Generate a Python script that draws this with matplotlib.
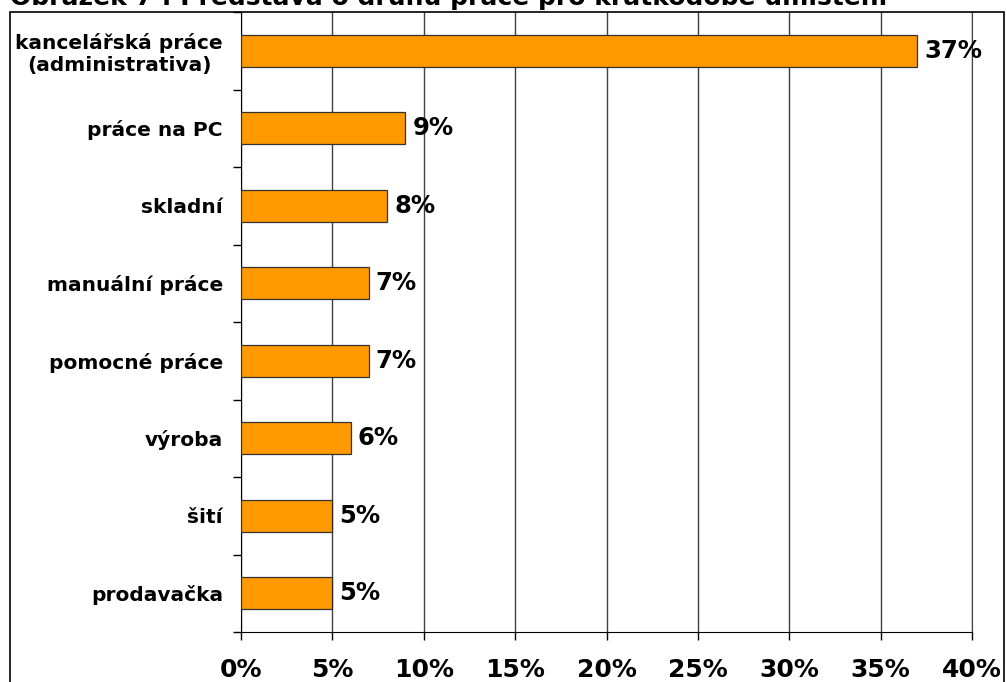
import matplotlib
matplotlib.use("Agg")
import matplotlib.pyplot as plt
from matplotlib.patches import Rectangle
from matplotlib.ticker import FixedLocator

# Data (top to bottom)
categories = ["kancelářská práce\n(administrativa)", "práce na PC", "skladní",
              "manuální práce", "pomocné práce", "výroba", "šití", "prodavačka"]
values = [37, 9, 8, 7, 7, 6, 5, 5]
xticks = [0, 5, 10, 15, 20, 25, 30, 35, 40]
xtick_labels = [f"{v}%" for v in xticks]
title = "Obrázek 7 : Představa o druhu práce pro krátkodobé umístění"

W, H = 1007, 682
fig = plt.figure(figsize=(W / 100, H / 100), dpi=100)
fig.patch.set_facecolor("white")

# Outer chart frame
fig.patches.append(Rectangle((10 / W, -0.02), 994 / W, 0.02 + 1 - 12 / H,
                             transform=fig.transFigure, fill=False,
                             edgecolor="black", linewidth=1.2, zorder=0))

ax = fig.add_axes([241 / W, 1 - 632 / H, (972 - 241) / W, (632 - 12) / H])

n = len(categories)
ypos = [n - 1 - i + 0.5 for i in range(n)]
ax.barh(ypos, values, height=0.41, color="#FF9900", edgecolor="#333333",
        linewidth=0.9, zorder=3)

for y, v in zip(ypos, values):
    ax.annotate(f"{v}%", xy=(v, y), xytext=(5, 0), textcoords="offset points",
                ha="left", va="center", fontsize=17.5, fontweight="bold",
                color="black", zorder=4)

ax.set_xlim(0, 40)
ax.set_ylim(0, n)
ax.set_xticks(xticks)
ax.set_xticklabels(xtick_labels, fontsize=18, fontweight="bold")
ax.tick_params(axis="x", direction="out", length=6, width=1, pad=13,
               color="black")

# Ticks at category boundaries, labels at category centres
ax.yaxis.set_major_locator(FixedLocator(range(n + 1)))
ax.yaxis.set_minor_locator(FixedLocator(ypos))
ax.set_yticklabels([], minor=False)
ax.set_yticklabels(categories, minor=True, fontsize=14.5, fontweight="bold",
                   ha="right", multialignment="center")
ax.tick_params(axis="y", which="major", direction="out", length=6, width=1,
               color="black")
ax.tick_params(axis="y", which="minor", length=0, pad=13)

ax.grid(axis="x", color="#404040", linewidth=1.0, zorder=1)
ax.set_axisbelow(True)
ax.spines["top"].set_visible(False)
ax.spines["right"].set_color("#404040")
ax.spines["left"].set_color("black")
ax.spines["bottom"].set_color("black")

fig.text(10 / W, 1 - 5 / H, title, ha="left", va="baseline",
         fontsize=18, fontweight="bold")

fig.savefig("out.png", dpi=100)
